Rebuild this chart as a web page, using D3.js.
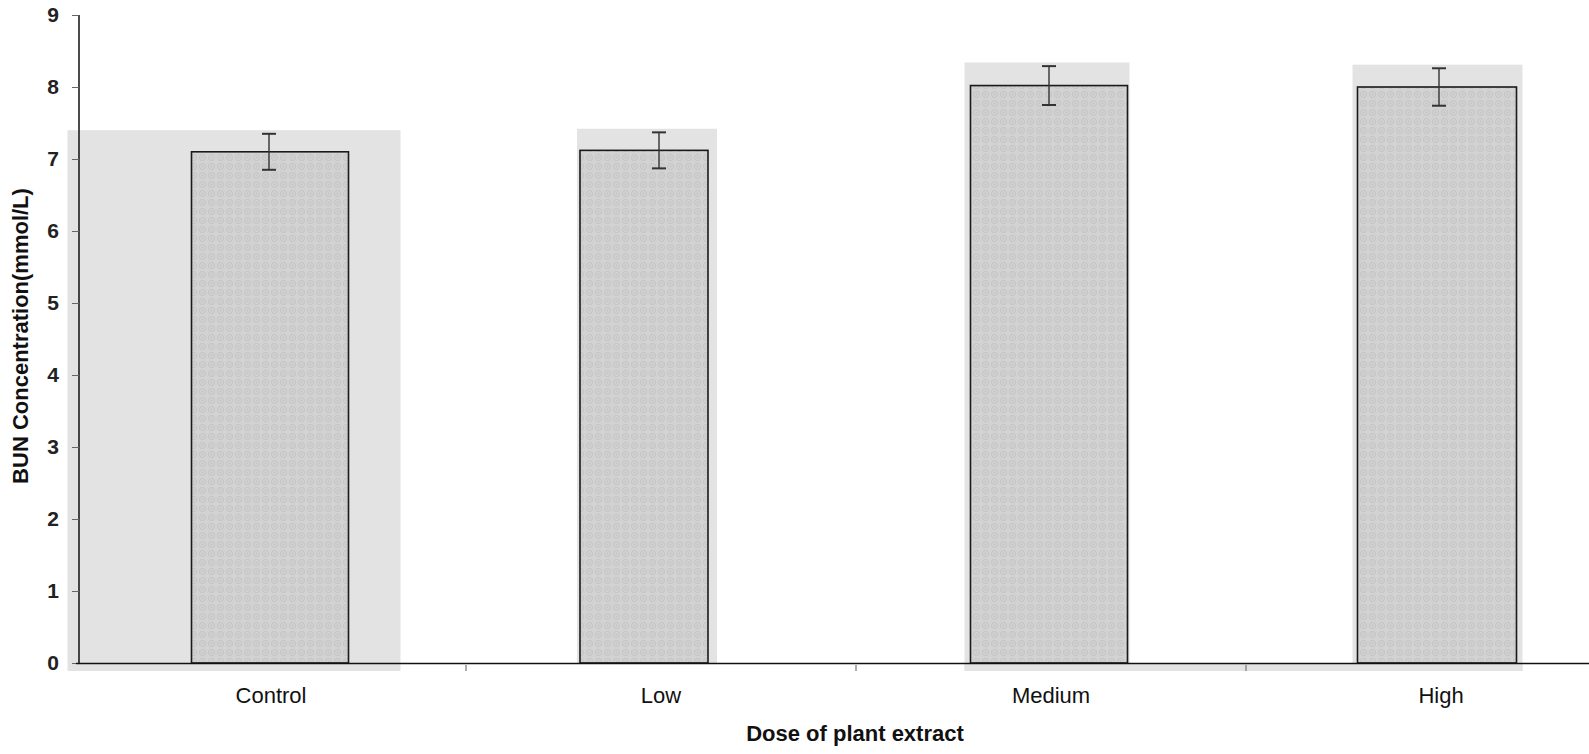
<!DOCTYPE html>
<html>
<head>
<meta charset="utf-8">
<script src="https://cdn.jsdelivr.net/npm/d3@7"></script>
<style>
  html, body { margin: 0; padding: 0; background: #ffffff; }
  svg { display: block; }
</style>
</head>
<body>
<svg id="chart" width="1589" height="754"></svg>
<script>
// ---- data ----
const categories = ["Control", "Low", "Medium", "High"];
const means = [7.10, 7.12, 8.02, 8.00];
const errors = [0.25, 0.25, 0.27, 0.26];
const yTicks = [0, 1, 2, 3, 4, 5, 6, 7, 8, 9];
const xTitle = "Dose of plant extract";
const yTitle = "BUN Concentration(mmol/L)";

// ---- layout (sizes / offsets in px, not data) ----
const svg = d3.select("#chart");
const font = "'Liberation Sans', Arial, sans-serif";

const x = d3.scaleBand().domain(categories).range([76, 1636]).padding(0);
const y = d3.scaleLinear().domain([0, 9]).range([663, 15]);
const barWidths = [157, 128, 157, 159];
const barShift = [-1, -17, -2, -4];
const shadePad = [[124, 52], [3, 9], [6, 2], [5, 6]];

const center = (c) => x(c) + x.bandwidth() / 2;
const barLeft = (c, i) => center(c) + barShift[i] - barWidths[i] / 2;

// pattern imitating the printed stipple
const defs = svg.append("defs");
const pat = defs.append("pattern").attr("id", "stip")
  .attr("patternUnits", "userSpaceOnUse").attr("width", 9).attr("height", 9);
pat.append("rect").attr("width", 9).attr("height", 9).attr("fill", "#d3d2d3");
pat.append("circle").attr("cx", 4.5).attr("cy", 4.5).attr("r", 3)
  .attr("fill", "none").attr("stroke", "#c0bfc0").attr("stroke-width", 0.9);
pat.append("circle").attr("cx", 4.5).attr("cy", 4.5).attr("r", 0.9).attr("fill", "#c4c3c4");

// scan shading behind bars
const shade = svg.append("g");
categories.forEach((c, i) => {
  const x0 = barLeft(c, i) - shadePad[i][0];
  const x1 = barLeft(c, i) + barWidths[i] + shadePad[i][1];
  const top = y(means[i] + errors[i] + 0.05);
  const bottom = (i === 1) ? y(0) : y(0) + 8;
  shade.append("rect").attr("x", x0).attr("y", top)
    .attr("width", x1 - x0).attr("height", bottom - top)
    .attr("fill", "#e4e3e4");
});
{
  const xa = barLeft("Medium", 2) - 6;
  const xb = barLeft("High", 3) + barWidths[3] + 6;
  shade.append("rect").attr("x", xa).attr("y", y(0)).attr("width", xb - xa).attr("height", 8)
    .attr("fill", "#e4e3e4");
}

// bars
svg.append("g").selectAll("rect").data(categories).join("rect")
  .attr("x", (d, i) => barLeft(d, i))
  .attr("y", (d, i) => y(means[i]))
  .attr("width", (d, i) => barWidths[i])
  .attr("height", (d, i) => y(0) - y(means[i]))
  .attr("fill", "url(#stip)")
  .attr("stroke", "#1a1a1a")
  .attr("stroke-width", 1.6);

// error bars
const eb = svg.append("g").attr("stroke", "#333").attr("stroke-width", 1.4);
categories.forEach((c, i) => {
  const cx = center(c) - 2;
  const hi = y(means[i] + errors[i]), lo = y(means[i] - errors[i]);
  eb.append("line").attr("x1", cx).attr("x2", cx).attr("y1", hi).attr("y2", lo);
  eb.append("line").attr("x1", cx - 7).attr("x2", cx + 7).attr("y1", hi).attr("y2", hi).attr("stroke-width", 2);
  eb.append("line").attr("x1", cx - 7).attr("x2", cx + 7).attr("y1", lo).attr("y2", lo).attr("stroke-width", 2);
});

// y axis
const yAxis = d3.axisLeft(y).tickValues(yTicks).tickSize(7).tickPadding(13).tickFormat(d3.format("d"));
const gy = svg.append("g").attr("transform", "translate(79,0)").call(yAxis);
gy.select(".domain").attr("stroke", "#111").attr("stroke-width", 1.5).attr("d", `M0,${y(9)}V${y(0)}`);
gy.selectAll(".tick line").attr("stroke", "#666").attr("stroke-width", 1);
gy.selectAll(".tick text").attr("font-family", font).attr("font-size", 21)
  .attr("font-weight", "bold").attr("fill", "#222");

// x axis
const xAxis = d3.axisBottom(x).tickSize(0).tickPadding(24);
const gx = svg.append("g").attr("transform", `translate(0,${y(0)})`).call(xAxis);
gx.select(".domain").attr("stroke", "#111").attr("stroke-width", 1.5)
  .attr("d", `M76,0.5H1589`);
gx.selectAll(".tick text").attr("font-family", font).attr("font-size", 22).attr("fill", "#111");
gx.append("g").selectAll("line").data(categories.slice(1)).join("line")
  .attr("x1", (d) => x(d)).attr("x2", (d) => x(d))
  .attr("y1", 2).attr("y2", 8).attr("stroke", "#777").attr("stroke-width", 1.2);

// titles
svg.append("text").attr("x", 855).attr("y", 741).attr("text-anchor", "middle")
  .attr("font-family", font).attr("font-size", 22).attr("font-weight", "bold").attr("fill", "#111")
  .text(xTitle);
svg.append("text").attr("transform", "translate(28,336) rotate(-90)").attr("text-anchor", "middle")
  .attr("font-family", font).attr("font-size", 22).attr("font-weight", "bold").attr("fill", "#111")
  .text(yTitle);
</script>
</body>
</html>
